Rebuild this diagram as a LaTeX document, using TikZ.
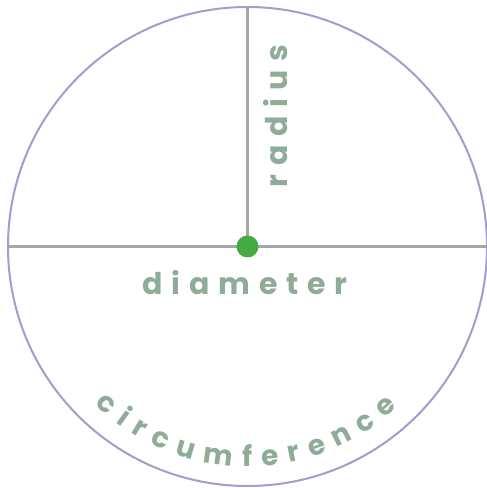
\documentclass[tikz,border=0pt]{standalone}
\usepackage{fontspec}
\setmainfont{Poppins}
\newfontfamily\lblfont[LetterSpace=29]{Poppins}
\usetikzlibrary{decorations.text}
\definecolor{ringc}{RGB}{163,156,204}
\definecolor{linec}{RGB}{166,166,166}
\definecolor{dotc}{RGB}{68,170,68}
\definecolor{txtc}{RGB}{143,172,152}
\tikzset{
  ring/.style={circle, draw=ringc, line width=2pt, minimum size=479pt, inner sep=0pt},
  guide/.style={draw=linec, line width=2.2pt},
  centerdot/.style={circle, fill=dotc, minimum size=22pt, inner sep=0pt},
  lbl/.style={text=txtc, font=\lblfont\bfseries\fontsize{30}{30}\selectfont, inner sep=0pt}
}
\begin{document}
\begin{tikzpicture}[x=1pt,y=1pt]
\useasboundingbox (0,0) rectangle (487,488);
\coordinate (c) at (247.5,241.5);
\node[ring] (circ) at (c) {};
\draw[guide] (circ.west) -- (circ.east);
\draw[guide] (c) -- (circ.north);
\node[centerdot] (dot) at (c) {};
\node[lbl, rotate=90] (rad) at (276,372) {radius};
\node[lbl] (dia) at (245,205) {diameter};
\path[decorate, decoration={text along path, text align={fit to path},
  text={|\color{txtc}\lblfont\bfseries\fontsize{28}{28}\selectfont|circumference}}]
  (c) ++(226:220) arc[start angle=226, end angle=313, radius=220];
\end{tikzpicture}
\end{document}
